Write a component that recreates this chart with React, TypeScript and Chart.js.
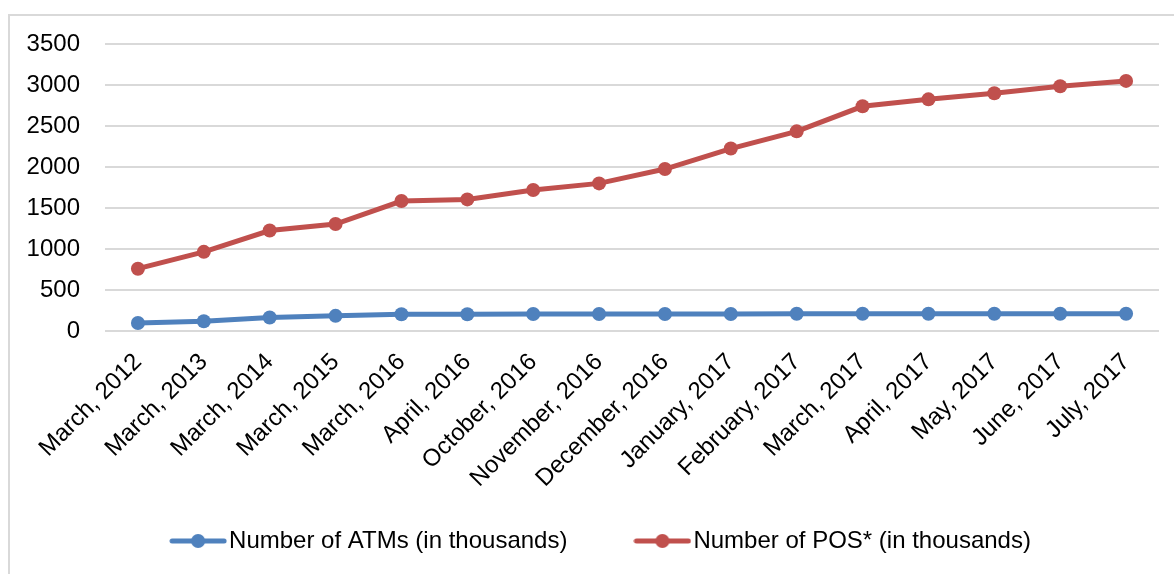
import React, { useEffect, useRef } from "react";
import { Chart, registerables } from "chart.js";

Chart.register(...registerables);

const categories = [
  "March, 2012", "March, 2013", "March, 2014", "March, 2015", "March, 2016",
  "April, 2016", "October, 2016", "November, 2016", "December, 2016",
  "January, 2017", "February, 2017", "March, 2017", "April, 2017",
  "May, 2017", "June, 2017", "July, 2017",
];
const atmSeries = [98, 118, 165, 185, 205, 205, 208, 208, 208, 208, 210, 210, 210, 210, 210, 210];
const posSeries = [760, 965, 1225, 1305, 1585, 1605, 1720, 1800, 1975, 2225, 2435, 2740, 2825, 2900, 2985, 3050];
const yMin = 0;
const yMax = 3500;
const yStep = 500;
const seriesNames = ["Number of ATMs (in thousands)", "Number of POS* (in thousands)"];
const seriesColors = ["#4f81bd", "#c0504d"];

const FONT = "'Liberation Sans', Arial, sans-serif";

function legendIcon(color: string): HTMLCanvasElement {
  const c = document.createElement("canvas");
  c.width = 58;
  c.height = 18;
  const ctx = c.getContext("2d")!;
  ctx.strokeStyle = color;
  ctx.lineWidth = 5;
  ctx.lineCap = "round";
  ctx.beginPath();
  ctx.moveTo(3, 9);
  ctx.lineTo(55, 9);
  ctx.stroke();
  ctx.fillStyle = color;
  ctx.beginPath();
  ctx.arc(29, 9, 7, 0, Math.PI * 2);
  ctx.fill();
  return c;
}

const framePlugin = {
  id: "frame",
  afterLayout(chart: any) {
    if (chart.scales.x) chart.scales.x.bottom = 500;
    if (chart.legend) {
      const h = chart.legend.height;
      chart.legend.top = 453;
      chart.legend.bottom = 453 + h;
      chart.legend.left = 51;
    }
  },
  beforeDraw(chart: any) {
    const ctx = chart.ctx;
    ctx.save();
    ctx.strokeStyle = "#d9d9d9";
    ctx.lineWidth = 2;
    ctx.beginPath();
    ctx.moveTo(9, 574);
    ctx.lineTo(9, 15);
    ctx.lineTo(1174, 15);
    ctx.stroke();
    ctx.restore();
  },
};

export default function App() {
  const ref = useRef<HTMLCanvasElement | null>(null);
  useEffect(() => {
    if (!ref.current) return;
    const icons = seriesColors.map((c) => legendIcon(c));
    const chart = new Chart(ref.current, {
      type: "line",
      data: {
        labels: categories,
        datasets: [atmSeries, posSeries].map((d, i) => ({
          label: seriesNames[i],
          data: d,
          borderColor: seriesColors[i],
          backgroundColor: seriesColors[i],
          borderWidth: 5,
          pointRadius: 7,
          pointHoverRadius: 7,
          pointBorderWidth: 0,
          pointBackgroundColor: seriesColors[i],
          tension: 0,
          fill: false,
        })),
      },
      options: {
        responsive: false,
        animation: false,
        layout: { padding: { left: 8, right: 15, top: 44, bottom: 0 } },
        plugins: {
          tooltip: { enabled: false },
          legend: {
            display: true,
            position: "bottom",
            labels: {
              usePointStyle: true,
              pointStyleWidth: 38,
              padding: 76,
              color: "#000",
              font: { family: FONT, size: 24 },
              generateLabels: (chart: any) =>
                chart.data.datasets.map((ds: any, i: number) => ({
                  text: ds.label,
                  fillStyle: ds.borderColor,
                  strokeStyle: ds.borderColor,
                  lineWidth: 0,
                  pointStyle: icons[i],
                  hidden: false,
                  datasetIndex: i,
                  fontColor: "#000",
                })),
            },
          },
        },
        scales: {
          x: {
            offset: true,
            grid: { display: false, drawTicks: false },
            border: { display: false },
            afterFit: (scale: any) => {
              scale.height = 133;
            },
            ticks: {
              autoSkip: false,
              minRotation: 45,
              maxRotation: 45,
              padding: 17,
              color: "#000",
              font: { family: FONT, size: 24 },
            },
          },
          y: {
            min: yMin,
            max: yMax,
            afterFit: (scale: any) => {
              scale.width = 97;
            },
            grid: { color: "#d9d9d9", lineWidth: 2, drawTicks: false },
            border: { display: false },
            ticks: {
              stepSize: yStep,
              padding: 25,
              color: "#000",
              font: { family: FONT, size: 24 },
              callback: (v: any) => String(v),
            },
          },
        },
      },
      plugins: [framePlugin],
    });
    return () => chart.destroy();
  }, []);
  return (
    <div style={{ position: "fixed", left: 0, top: 0, width: 1174, height: 574, background: "#fff" }}>
      <canvas ref={ref} width={1174} height={574} style={{ display: "block", width: 1174, height: 574 }} />
    </div>
  );
}
